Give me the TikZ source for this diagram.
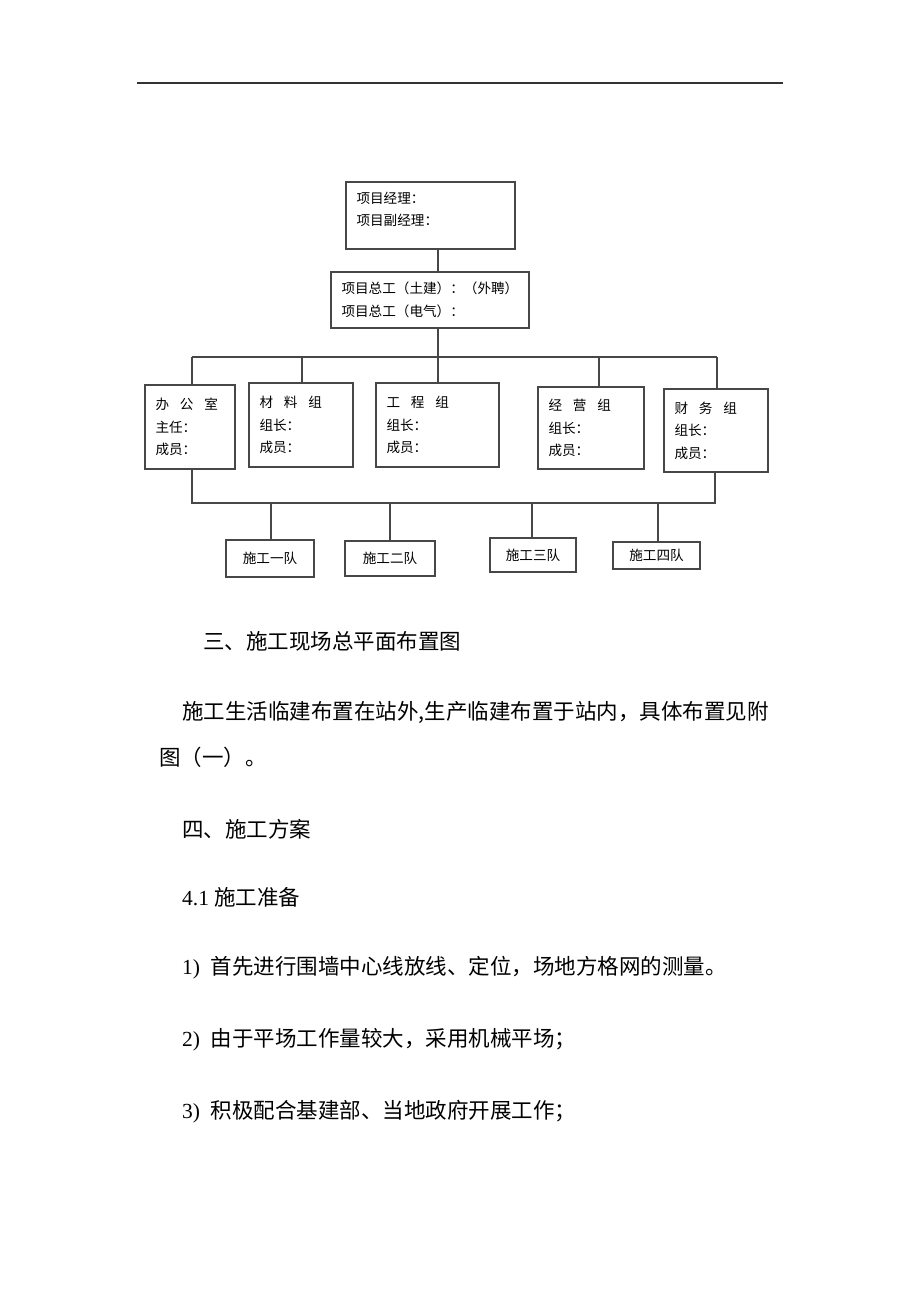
\documentclass[tikz,border=0pt]{standalone}
\usepackage{fontspec}
\setmainfont{Liberation Serif}
\newfontfamily\cjk{Noto Sans CJK SC}
\begin{document}
\begin{tikzpicture}[x=1pt,y=-1pt,
  conn/.style={draw=black!72, line width=1.6pt},
  orgbox/.style={draw=black!72, line width=1.6pt, rectangle, inner xsep=10.5pt, inner ysep=0pt,
    align=left, font=\cjk\fontsize{13.6}{22.5}\selectfont},
  teambox/.style={draw=black!72, line width=1.6pt, rectangle, inner sep=0pt, align=center,
    font=\cjk\fontsize{13.6}{16}\selectfont},
  bodytext/.style={anchor=west, inner sep=0pt, font=\fontsize{21.5}{26}\selectfont}]
\useasboundingbox (0,0) rectangle (920,1302);
\fill[white] (0,0) rectangle (920,1302);

% top rule
\coordinate (ruleL) at (137,83);
\coordinate (ruleR) at (783,83);
\draw[draw=black!80, line width=1.4pt] (ruleL) -- (ruleR);

% top boxes
\node[orgbox, text width=148pt, minimum height=67pt] (pm) at (430.5,215.5)
  {项目经理：\\项目副经理：\\[-9pt]\mbox{}};
\node[orgbox, text width=177pt, minimum height=56pt] (ce) at (430,300)
  {项目总工（土建）：（外聘）\\项目总工（电气）：};

% department boxes
\node[orgbox, text width=69pt, minimum height=84pt] (bg) at (190,427)
  {办\hspace{0.8em}公\hspace{0.8em}室\\主任：\\成员：};
\node[orgbox, text width=83pt, minimum height=84pt] (cl) at (301,425)
  {材\hspace{0.8em}料\hspace{0.8em}组\\组长：\\成员：};
\node[orgbox, text width=102pt, minimum height=84pt] (gc) at (437.5,425)
  {工\hspace{0.8em}程\hspace{0.8em}组\\组长：\\成员：};
\node[orgbox, text width=85pt, minimum height=82pt] (jy) at (591,428)
  {经\hspace{0.8em}营\hspace{0.8em}组\\组长：\\成员：};
\node[orgbox, text width=83pt, minimum height=83pt] (cw) at (716,430.5)
  {财\hspace{0.8em}务\hspace{0.8em}组\\组长：\\成员：};

% team boxes
\node[teambox, minimum width=88pt, minimum height=37pt] (d1) at (270,558.5) {施工一队};
\node[teambox, minimum width=90pt, minimum height=35pt] (d2) at (390,558.5) {施工二队};
\node[teambox, minimum width=86pt, minimum height=34pt] (d3) at (533,555) {施工三队};
\node[teambox, minimum width=87pt, minimum height=27pt] (d4) at (656.5,555.5) {施工四队};

% connectors: upper part
\coordinate (trunk) at (438,357);
\draw[conn] (pm.south -| trunk) -- (ce.north -| trunk);
\draw[conn] (ce.south -| trunk) -- (trunk);
\coordinate (busL) at (192,357);
\coordinate (busB) at (302,357);
\coordinate (busD) at (599,357);
\coordinate (busR) at (717,357);
\draw[conn] (busL) -- (busR);
\draw[conn] (busL) -- (bg.north -| busL);
\draw[conn] (busB) -- (cl.north -| busB);
\draw[conn] (trunk) -- (gc.north -| trunk);
\draw[conn] (busD) -- (jy.north -| busD);
\draw[conn] (busR) -- (cw.north -| busR);

% connectors: lower part
\coordinate (lowL) at (192,503);
\coordinate (lowR) at (715,503);
\draw[conn] (bg.south -| lowL) -- (lowL) -- (lowR) -- (cw.south -| lowR);
\coordinate (t1) at (271,503);
\coordinate (t2) at (390,503);
\coordinate (t3) at (532,503);
\coordinate (t4) at (658,503);
\draw[conn] (t1) -- (d1.north -| t1);
\draw[conn] (t2) -- (d2.north -| t2);
\draw[conn] (t3) -- (d3.north -| t3);
\draw[conn] (t4) -- (d4.north -| t4);

% body text
\node[bodytext] (s3) at (203,641) {\cjk 三、施工现场总平面布置图};
\node[bodytext] (p1) at (182,712) {\cjk 施工生活临建布置在站外,生产临建布置于站内，具体布置见附};
\node[bodytext] (p2) at (159,757) {\cjk 图（一）。};
\node[bodytext] (s4) at (182,829) {\cjk 四、施工方案};
\node[bodytext] (s41) at (182,897) {4.1 {\cjk 施工准备}};
\node[bodytext] (i1) at (182,968) {1)\ \ {\cjk 首先进行围墙中心线放线、定位，场地方格网的测量。}};
\node[bodytext] (i2) at (182,1040) {2)\ \ {\cjk 由于平场工作量较大，采用机械平场；}};
\node[bodytext] (i3) at (182,1112) {3)\ \ {\cjk 积极配合基建部、当地政府开展工作；}};
\end{tikzpicture}
\end{document}
